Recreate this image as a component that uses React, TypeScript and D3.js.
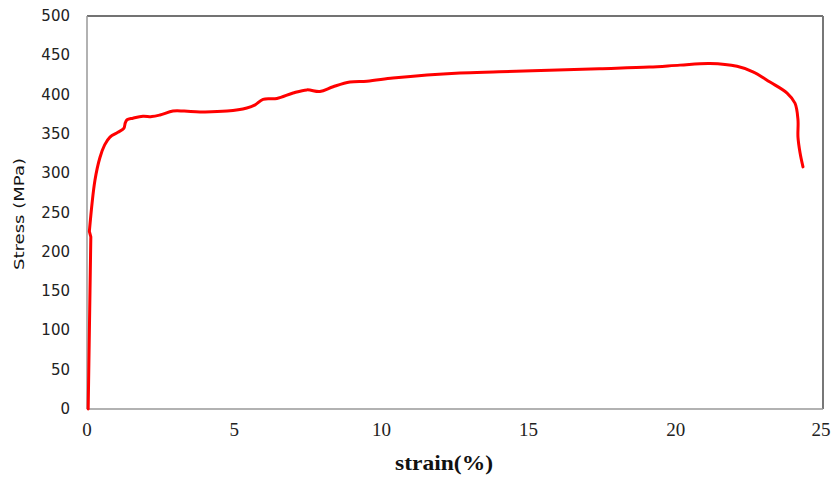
import React from "react";
import * as d3 from "d3";

const strain: number[] = [0.04, 0.13, 0.08, 0.27, 0.44, 0.6, 0.78, 1.05, 1.25, 1.3, 1.36, 1.56, 1.9, 2.2, 2.48, 2.92, 3.3, 3.84, 4.76, 5.43, 5.71, 5.98, 6.45, 7.0, 7.47, 7.91, 8.36, 8.93, 9.51, 10.39, 11.55, 12.67, 14.0, 15.7, 17.4, 19.1, 20.14, 21.16, 22.08, 22.62, 23.2, 23.78, 24.05, 24.15, 24.15, 24.22, 24.32];
const stress: number[] = [0, 219, 226, 291, 320, 336, 346, 352, 357, 364, 368, 370, 372.5, 372, 374, 379, 379, 378, 379, 383, 387, 394, 395, 402, 406, 404, 410, 416, 417, 421, 425, 427.5, 429, 431, 433, 435, 437.5, 439.5, 436, 429, 416, 402, 389, 368, 346, 326, 308];

const xTicks: number[] = [0, 5, 10, 15, 20, 25];
const yTicks: number[] = [0, 50, 100, 150, 200, 250, 300, 350, 400, 450, 500];

const W = 835;
const H = 477;
const L = 87, T = 16, R = 823, B = 409;

export default function App() {
  const x = d3.scaleLinear().domain([0, 25]).range([L, R]);
  const y = d3.scaleLinear().domain([0, 500]).range([B, T]);
  const pts: [number, number][] = strain.map((s, i) => [s, stress[i]]);
  const straight = d3
    .line<[number, number]>()
    .x((d) => x(d[0]))
    .y((d) => y(d[1]));
  const smooth = d3
    .line<[number, number]>()
    .x((d) => x(d[0]))
    .y((d) => y(d[1]))
    .curve(d3.curveCatmullRom.alpha(0.5));
  const head = straight(pts.slice(0, 3)) || "";
  const tail = (smooth(pts.slice(2)) || "").replace(/^M/, "L");
  const d = head + tail;

  return (
    <svg
      width={W}
      height={H}
      style={{ position: "absolute", left: 0, top: 0, background: "#fff" }}
    >
      <rect x={0} y={0} width={W} height={H} fill="#fff" />
      <line x1={L} y1={T} x2={R} y2={T} stroke="#444" strokeWidth={1.5} />
      <line x1={R} y1={T} x2={R} y2={B} stroke="#777" strokeWidth={2} />
      <line x1={L} y1={B} x2={R} y2={B} stroke="#999" strokeWidth={1.5} />
      <line x1={L} y1={T} x2={L} y2={B} stroke="#999" strokeWidth={1.5} />

      {yTicks.map((t) => (
        <text
          key={"y" + t}
          x={70}
          y={y(t)}
          textAnchor="end"
          dominantBaseline="central"
          fontFamily="DejaVu Sans, Verdana, sans-serif"
          fontSize={15}
          fill="#222"
        >
          {t}
        </text>
      ))}
      {xTicks.map((t) => (
        <text
          key={"x" + t}
          x={x(t) - (t === 25 ? 2 : 0)}
          y={436}
          textAnchor="middle"
          fontFamily="Liberation Serif, Times New Roman, serif"
          fontSize={19}
          fill="#222"
        >
          {t}
        </text>
      ))}
      <text
        x={395}
        y={470}
        fontFamily="Liberation Serif, Times New Roman, serif"
        fontWeight="bold"
        fontSize={21}
        textLength={98}
        lengthAdjust="spacingAndGlyphs"
        fill="#111"
      >
        strain(%)
      </text>
      <text
        transform={`translate(24, 214) rotate(-90)`}
        textAnchor="middle"
        fontFamily="DejaVu Sans, Verdana, sans-serif"
        fontSize={14}
        textLength={112}
        lengthAdjust="spacingAndGlyphs"
        fill="#111"
      >
        Stress (MPa)
      </text>

      <path
        d={d}
        fill="none"
        stroke="#ff0000"
        strokeWidth={3}
        strokeLinejoin="round"
        strokeLinecap="round"
      />
    </svg>
  );
}
